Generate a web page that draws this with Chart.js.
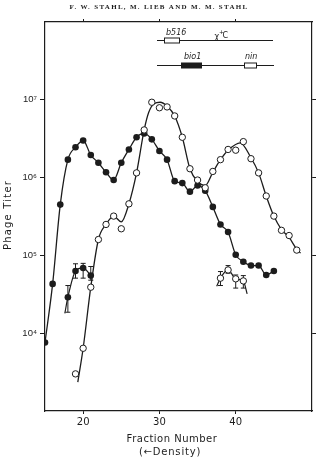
<!DOCTYPE html>
<html>
<head>
<meta charset="utf-8">
<script src="https://cdn.jsdelivr.net/npm/chart.js@4.4.1/dist/chart.umd.min.js"></script>
<style>
  html, body { margin: 0; padding: 0; background: #fff; }
  #wrap { width: 317px; height: 457px; }
</style>
</head>
<body>
<div id="wrap"><canvas id="chart" width="317" height="457"></canvas></div>
<script>
// closed circles (main band)
const closedFractions = [15, 16, 17, 18, 19, 20, 21, 22, 23, 24, 25, 26, 27, 28, 29, 30,
                         31, 32, 33, 34, 35, 36, 37, 38, 39, 40, 41, 42, 43, 44, 45];
const closedTiters = [7.6e3, 4.3e4, 4.5e5, 1.7e6, 2.45e6, 3.0e6, 1.95e6, 1.55e6, 1.17e6, 9.3e5,
                      1.55e6, 2.3e6, 3.3e6, 3.7e6, 3.1e6, 2.2e6, 1.7e6, 9.0e5, 8.5e5, 6.6e5,
                      7.9e5, 6.8e5, 4.2e5, 2.5e5, 2.0e5, 1.02e5, 8.3e4, 7.4e4, 7.4e4, 5.6e4, 6.3e4];

// open circles (main band)
const openFractions = [19, 20, 21, 22, 23, 24, 25, 26, 27, 28, 29, 30, 31, 32, 33,
                       34, 35, 36, 37, 38, 39, 40, 41, 42, 43, 44, 45, 46, 47, 48];
const openTiters = [3.0e3, 6.4e3, 3.9e4, 1.6e5, 2.5e5, 3.2e5, 2.2e5, 4.6e5, 1.15e6, 4.1e6,
                    9.3e6, 7.9e6, 8.1e6, 6.2e6, 3.3e6, 1.3e6, 9.3e5, 7.4e5, 1.2e6, 1.7e6,
                    2.3e6, 2.25e6, 2.9e6, 1.75e6, 1.15e6, 5.8e5, 3.2e5, 2.1e5, 1.8e5, 1.17e5];

// drawn curve through the open circles
const openCurveFractions = [19.3, 20, 21, 22, 23, 24, 25, 26, 27, 28, 28.6, 29.3, 30.1, 31, 32,
                            33, 34, 35, 36, 37, 38, 39, 40.6, 42, 43, 44, 45, 46, 47, 48, 48.5];
const openCurveTiters = [2.35e3, 6.4e3, 3.9e4, 1.6e5, 2.5e5, 3.2e5, 2.7e5, 4.6e5, 1.15e6, 4.1e6,
                         6.9e6, 8.9e6, 9.3e6, 8.3e6, 6.2e6, 3.3e6, 1.3e6, 8.9e5, 7.9e5, 1.17e6,
                         1.7e6, 2.25e6, 2.8e6, 1.8e6, 1.15e6, 5.8e5, 3.2e5, 2.15e5, 1.7e5, 1.2e5, 1.07e5];

// closed circles with error bars
const closedErrFractions = [18, 19, 20, 21];
const closedErrTiters = [2.9e4, 6.3e4, 6.9e4, 5.5e4];
const closedErrLow = [1.86e4, 5.1e4, 5.1e4, 4.8e4];
const closedErrHigh = [4.1e4, 7.8e4, 7.9e4, 7.2e4];
const closedErrCurveFractions = [17.6, 18, 19, 20, 21];
const closedErrCurveTiters = [1.8e4, 2.9e4, 6.3e4, 6.9e4, 5.5e4];

// open circles with error bars
const openErrFractions = [38, 39, 40, 41];
const openErrTiters = [5.1e4, 6.5e4, 5.0e4, 4.7e4];
const openErrLow = [4.1e4, 5.9e4, 3.8e4, 3.8e4];
const openErrHigh = [6.2e4, 7.4e4, 5.6e4, 5.5e4];
const openErrCurveFractions = [37.5, 38, 39, 40, 41, 41.5];
const openErrCurveTiters = [4.0e4, 5.1e4, 6.5e4, 5.0e4, 4.7e4, 3.2e4];

const xTicks = [20, 30, 40];
const yTicks = [1e4, 1e5, 1e6, 1e7];
const yTickLabels = ['10\u2074', '10\u2075', '10\u2076', '10\u2077'];

const ink = '#1c1c1c';

function toPoints(xs, ys) {
    return xs.map((x, i) => ({ x: x, y: ys[i] }));
}

const errorBars = {
    id: 'errorBars',
    beforeDatasetsDraw(chart) {
        const ctx = chart.ctx;
        const xs = chart.scales.x, ys = chart.scales.y;
        const sets = [
            [closedErrFractions, closedErrLow, closedErrHigh],
            [openErrFractions, openErrLow, openErrHigh]
        ];
        ctx.save();
        ctx.strokeStyle = ink;
        ctx.lineWidth = 1;
        for (const [fx, lo, hi] of sets) {
            fx.forEach((f, i) => {
                const px = xs.getPixelForValue(f);
                const y1 = ys.getPixelForValue(lo[i]);
                const y2 = ys.getPixelForValue(hi[i]);
                ctx.beginPath();
                ctx.moveTo(px, y1); ctx.lineTo(px, y2);
                ctx.moveTo(px - 2.5, y1); ctx.lineTo(px + 2.5, y1);
                ctx.moveTo(px - 2.5, y2); ctx.lineTo(px + 2.5, y2);
                ctx.stroke();
            });
        }
        ctx.restore();
    }
};

const decor = {
    id: 'decor',
    afterDraw(chart) {
        const ctx = chart.ctx;
        ctx.save();
        ctx.fillStyle = ink;
        ctx.strokeStyle = ink;

        // running header
        const header = 'F. W. STAHL, M. LIEB AND M. M. STAHL';
        ctx.font = 'bold 7px "Liberation Serif"';
        const w = ctx.measureText(header).width;
        ctx.letterSpacing = ((179 - w) / header.length).toFixed(2) + 'px';
        ctx.textAlign = 'center';
        ctx.textBaseline = 'middle';
        ctx.fillText(header, 159, 7);

        // axis titles
        ctx.font = '10px "DejaVu Sans"';
        ctx.letterSpacing = '0.5px';
        ctx.fillText('Fraction Number', 172, 439);
        ctx.letterSpacing = '0.8px';
        ctx.fillText('(\u2190Density)', 170, 452);

        ctx.save();
        ctx.translate(8, 215);
        ctx.rotate(-Math.PI / 2);
        ctx.letterSpacing = '1.2px';
        ctx.fillText('Phage Titer', 0, 0);
        ctx.restore();

        // genetic map inset
        ctx.letterSpacing = '0px';
        ctx.lineWidth = 1;
        ctx.beginPath();
        ctx.moveTo(157, 40.5); ctx.lineTo(273, 40.5);
        ctx.moveTo(157, 65.5); ctx.lineTo(274, 65.5);
        ctx.stroke();
        ctx.fillStyle = '#fff';
        ctx.fillRect(164.5, 38, 15, 5);
        ctx.strokeRect(164.5, 38, 15, 5);
        ctx.fillRect(244.5, 63, 12, 5);
        ctx.strokeRect(244.5, 63, 12, 5);
        ctx.fillStyle = ink;
        ctx.fillRect(181, 62.5, 21, 6);

        ctx.font = 'italic 8px "DejaVu Sans"';
        ctx.textAlign = 'left';
        ctx.textBaseline = 'alphabetic';
        ctx.fillText('b516', 166, 35);
        ctx.fillText('bio1', 184, 59);
        ctx.fillText('nin', 245, 59);
        ctx.font = '8px "DejaVu Sans"';
        ctx.fillText('\u03c7', 214.5, 39);
        ctx.fillText('C', 222.5, 37.5);
        ctx.font = '6px "DejaVu Sans"';
        ctx.fillText('+', 219, 34);
        ctx.restore();
    }
};

const config = {
    type: 'scatter',
    data: {
        datasets: [{
            label: 'open',
            data: toPoints(openFractions, openTiters),
            showLine: false,
            pointRadius: 3.2,
            pointBackgroundColor: '#fff',
            pointBorderColor: ink,
            pointBorderWidth: 1
        }, {
            label: 'open with error',
            data: toPoints(openErrFractions, openErrTiters),
            showLine: false,
            pointRadius: 3.2,
            pointBackgroundColor: '#fff',
            pointBorderColor: ink,
            pointBorderWidth: 1
        }, {
            label: 'closed with error',
            data: toPoints(closedErrFractions, closedErrTiters),
            showLine: false,
            pointRadius: 3.3,
            pointBackgroundColor: ink,
            pointBorderWidth: 0
        }, {
            label: 'closed',
            data: toPoints(closedFractions, closedTiters),
            showLine: true,
            borderColor: ink,
            borderWidth: 1.3,
            cubicInterpolationMode: 'monotone',
            pointRadius: 3.3,
            pointBackgroundColor: ink,
            pointBorderWidth: 0
        }, {
            label: 'open curve',
            data: toPoints(openCurveFractions, openCurveTiters),
            showLine: true,
            borderColor: ink,
            borderWidth: 1.3,
            cubicInterpolationMode: 'monotone',
            pointRadius: 0
        }, {
            label: 'closed error curve',
            data: toPoints(closedErrCurveFractions, closedErrCurveTiters),
            showLine: true,
            borderColor: ink,
            borderWidth: 1.2,
            cubicInterpolationMode: 'monotone',
            pointRadius: 0
        }, {
            label: 'open error curve',
            data: toPoints(openErrCurveFractions, openErrCurveTiters),
            showLine: true,
            borderColor: ink,
            borderWidth: 1.2,
            cubicInterpolationMode: 'monotone',
            pointRadius: 0
        }]
    },
    options: {
        responsive: false,
        animation: false,
        devicePixelRatio: 1,
        layout: { padding: 0 },
        plugins: {
            legend: { display: false },
            tooltip: { enabled: false }
        },
        scales: {
            x: {
                type: 'linear', axis: 'x', position: 'bottom', min: 15, max: 50,
                afterBuildTicks: s => { s.ticks = xTicks.map(v => ({ value: v })); },
                afterFit: s => { s.height = 46; },
                grid: { drawOnChartArea: false, tickLength: 3, color: ink },
                border: { display: true, color: ink, width: 1.2 },
                ticks: { color: ink, font: { family: 'DejaVu Sans', size: 10 }, padding: 2,
                         maxRotation: 0, autoSkip: false }
            },
            xTop: {
                type: 'linear', axis: 'x', position: 'top', min: 15, max: 50,
                afterBuildTicks: s => { s.ticks = xTicks.map(v => ({ value: v })); },
                afterFit: s => { s.height = 22; },
                grid: { drawOnChartArea: false, tickLength: 3, color: ink },
                border: { display: true, color: ink, width: 1.2 },
                ticks: { display: false }
            },
            y: {
                type: 'logarithmic', axis: 'y', position: 'left', min: 1e3, max: 1e8,
                afterBuildTicks: s => { s.ticks = yTicks.map(v => ({ value: v })); },
                afterFit: s => { s.width = 45; },
                grid: { drawOnChartArea: false, tickLength: 5, color: ink },
                border: { display: true, color: ink, width: 1.2 },
                ticks: { color: ink, font: { family: 'Liberation Sans', size: 9.5 }, padding: 3,
                         callback: (v, i) => yTickLabels[i] }
            },
            yRight: {
                type: 'logarithmic', axis: 'y', position: 'right', min: 1e3, max: 1e8,
                afterBuildTicks: s => { s.ticks = yTicks.map(v => ({ value: v })); },
                afterFit: s => { s.width = 5; },
                grid: { drawOnChartArea: false, tickLength: 4, color: ink },
                border: { display: true, color: ink, width: 1.2 },
                ticks: { display: false }
            }
        }
    },
    plugins: [errorBars, decor]
};

const chart = new Chart(document.getElementById('chart'), config);
</script>
</body>
</html>
